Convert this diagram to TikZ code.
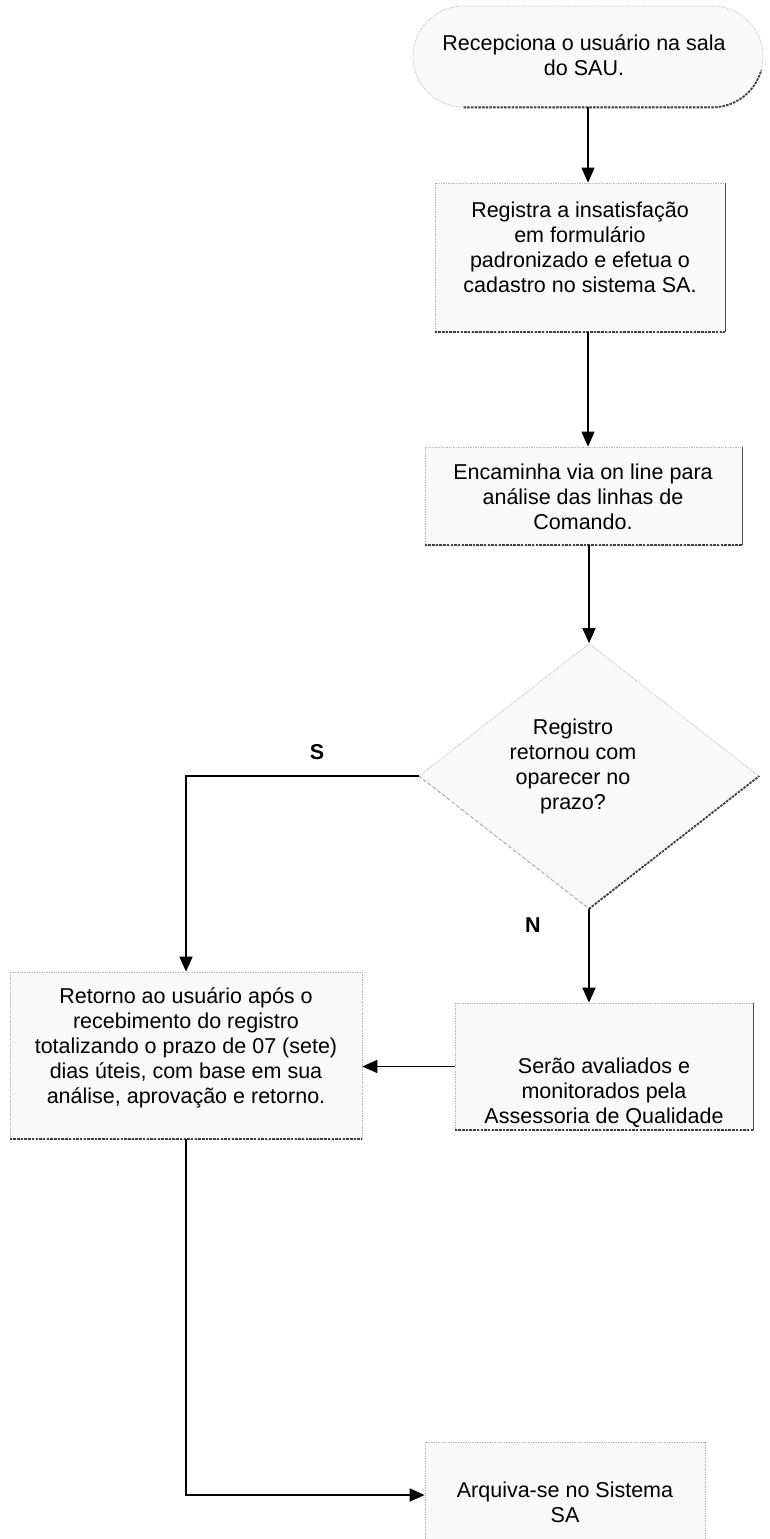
\documentclass[tikz,border=0pt]{standalone}
\usepackage{fontspec}
\setmainfont{Liberation Sans}
\usetikzlibrary{arrows.meta,shapes.geometric,shapes.misc,calc}
\begin{document}
\begin{tikzpicture}[x=1pt,y=-1pt,
  txt/.style={font=\fontsize{21.5}{25}\selectfont, align=center, inner sep=0pt},
  lbl/.style={font=\fontsize{21.5}{25}\selectfont\bfseries, inner sep=0pt},
  box/.style={draw=gray!55, densely dotted, line width=0.7pt, fill=gray!5, inner sep=0pt},
  edgeb/.style={line width=1.8pt, dash pattern=on 2.5pt off 1.2pt, black!75},
  edger/.style={line width=0.9pt, black!70},
  edgel/.style={line width=0.8pt, dashed, gray!70},
  arr/.style={line width=1.5pt, -{Triangle[length=15pt,width=13pt]}}]
\useasboundingbox (0,0) rectangle (770,1539);
\clip (0,0) rectangle (770,1539);
\fill[white] (0,0) rectangle (770,1539);

% start (stadium)
\node[box, shape=rounded rectangle, minimum width=350pt, minimum height=101pt] (start) at (588,56.5) {};
\draw[edgeb] ($(start.south)+(-124.5,0)$) -- ($(start.south)+(124.5,0)$) arc[start angle=90,end angle=15,radius=50.5];
\node[txt] (t1) at (584,55.5) {Recepciona o usuário na sala\\do SAU.};

% box 2
\node[box, minimum width=290pt, minimum height=149pt] (b2) at (580,257.5) {};
\draw[edgeb] (b2.south west) -- (b2.south east);
\draw[edger] (b2.north east) -- (b2.south east);
\node[txt] (t2) at (580,247.5) {Registra a insatisfação\\em formulário\\padronizado e efetua o\\cadastro no sistema SA.};

% box 3
\node[box, minimum width=317pt, minimum height=98pt] (b3) at (583.5,496) {};
\draw[edgeb] (b3.south west) -- (b3.south east);
\draw[edger] (b3.north east) -- (b3.south east);
\node[txt] (t3) at (583,497) {Encaminha via on line para\\análise das linhas de\\Comando.};

% decision
\node[box, shape=diamond, minimum width=340pt, minimum height=265pt] (dec) at (589,776) {};
\draw[edgel] (dec.west) -- (dec.south);
\draw[edgeb] (dec.south) -- (dec.east);
\node[txt] (tdec) at (573,766) {Registro\\retornou com\\oparecer no\\prazo?};

% left box
\node[box, minimum width=352pt, minimum height=167pt] (left) at (186,1055.5) {};
\draw[edgeb] (left.south west) -- (left.south east);
\node[txt] (tleft) at (186,1047.5) {Retorno ao usuário após o\\recebimento do registro\\totalizando o prazo de 07 (sete)\\dias úteis, com base em sua\\análise, aprovação e retorno.};

% right box
\node[box, minimum width=298pt, minimum height=127pt] (rbox) at (604,1066.5) {};
\draw[edgeb] (rbox.south west) -- (rbox.south east);
\draw[edger] (rbox.north east) -- (rbox.south east);
\node[txt] (tright) at (604,1093) {Serão avaliados e\\monitorados pela\\Assessoria de Qualidade};

% last box
\node[box, minimum width=280pt, minimum height=106pt] (last) at (565,1495) {};
\node[txt] (tlast) at (565,1502.5) {Arquiva-se no Sistema\\SA};

% labels
\node[lbl] (s) at (317,752) {S};
\node[lbl] (n) at (533,925) {N};

% connectors
\draw[arr] (start.south) -- (start.south |- b2.north);
\draw[arr] (start.south |- b2.south) -- (start.south |- b3.north);
\draw[arr] (dec.north |- b3.south) -- (dec.north);
\draw[arr] (dec.west) -| (left.north);
\draw[arr] (dec.south) -- (dec.south |- rbox.north);
\draw[arr] (rbox.west) -- (rbox.west -| left.east);
\draw[arr] (left.south) |- (last.west);
\end{tikzpicture}
\end{document}
